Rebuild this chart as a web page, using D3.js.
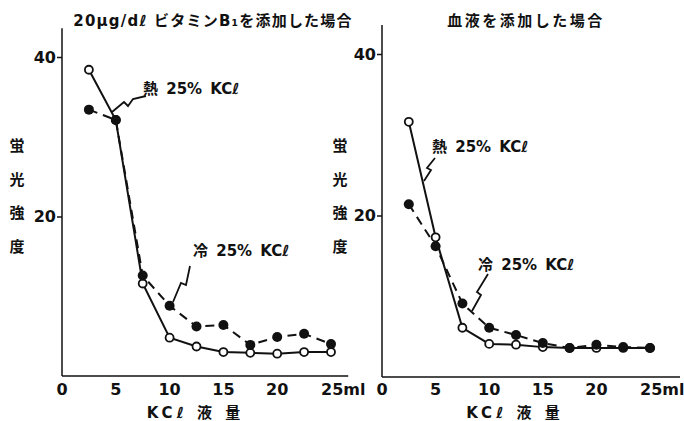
<!DOCTYPE html>
<html lang="ja">
<head>
<meta charset="utf-8">
<title>KCl 液量と蛍光強度</title>
<script src="https://d3js.org/d3.v7.min.js"></script>
<style>
  body { margin: 0; background: #fff; }
  text { font-family: "DejaVu Sans", "Noto Sans CJK JP", sans-serif; font-weight: bold; fill: #111; }
  .line { fill: none; stroke: #111; stroke-width: 2px; }
  .dash { stroke-dasharray: 9,6; }
</style>
</head>
<body>
<div id="chart"></div>
<script>
// KCl volume (ml)
var kcl = [2.5, 5, 7.5, 10, 12.5, 15, 17.5, 20, 22.5, 25];

// left panel: 20 µg/dl vitamin B1 added
var vitHot  = [38.4, 32.1, 11.6, 4.8, 3.7, 3.0, 2.9, 2.8, 3.0, 3.0];
var vitCold = [33.4, 32.1, 12.6, 8.8, 6.2, 6.4, 3.9, 4.9, 5.3, 4.0];

// right panel: blood added
var bloodHot  = [31.6, 17.3, 6.1, 4.1, 4.0, 3.7, 3.6, 3.6, 3.6, 3.6];
var bloodCold = [21.4, 16.2, 9.1, 6.1, 5.2, 4.2, 3.6, 4.0, 3.7, 3.6];

var xTicks = [0, 5, 10, 15, 20, 25];
var yTicks = [20, 40];
var yLabel = ["蛍", "光", "強", "度"];

var width = 684, height = 421;

var svg = d3.select("#chart").append("svg")
  .attr("width", width)
  .attr("height", height);

var panels = [
  { title: "20μg/dℓ ビタミンB\u2081を添加した場合", titleX: 213, titleSpacing: 1.2,
    hot: vitHot, cold: vitCold,
    x: d3.scaleLinear().domain([0, 25]).range([62, 331]),
    y: d3.scaleLinear().domain([0, 40]).range([376, 57]),
    xEnd: 26.6, labelX: 17,
    hotLabel: [143, 94], hotLead: [[112, 112], [124, 102], [128, 106], [133, 99], [146, 96]],
    coldLabel: [193, 256], coldLead: [[173, 302], [181, 283], [186, 285], [190, 266]] },
  { title: "血液を添加した場合", titleX: 526, titleSpacing: 2.5,
    hot: bloodHot, cold: bloodCold,
    x: d3.scaleLinear().domain([0, 25]).range([382, 650]),
    y: d3.scaleLinear().domain([0, 40]).range([377, 54]),
    xEnd: 27.8, labelX: 340,
    hotLabel: [432, 152], hotLead: [[424, 181], [431, 170], [427, 168], [435, 158]],
    coldLabel: [478, 270], coldLead: [[472, 311], [481, 295], [477, 292], [488, 274]] }
];

panels.forEach(function (p) {
  var g = svg.append("g");
  var x = p.x, y = p.y;

  // title
  g.append("text")
    .attr("x", p.titleX).attr("y", 26)
    .attr("text-anchor", "middle")
    .style("font-size", "15px")
    .style("letter-spacing", p.titleSpacing + "px")
    .text(p.title);

  // axis lines
  g.append("line")
    .attr("x1", x(0)).attr("x2", x(0))
    .attr("y1", y(43.6)).attr("y2", y(0))
    .attr("stroke", "#111").attr("stroke-width", 1.5);
  g.append("line")
    .attr("x1", x(0)).attr("x2", x(p.xEnd))
    .attr("y1", y(0)).attr("y2", y(0))
    .attr("stroke", "#111").attr("stroke-width", 1.5);

  // y axis ticks
  var yAxis = d3.axisLeft(y).tickValues(yTicks).tickSize(5).tickPadding(1);
  var ya = g.append("g")
    .attr("transform", "translate(" + x(0) + ",0)")
    .call(yAxis);
  ya.select(".domain").remove();
  ya.selectAll("line").attr("stroke", "#111").attr("stroke-width", 1.5);
  ya.selectAll("text").style("font-size", "16px").attr("font-family", null);

  // x tick labels
  g.selectAll(".xt").data(xTicks).enter().append("text")
    .attr("class", "xt")
    .attr("x", function (d) { return x(d); })
    .attr("y", 395)
    .attr("text-anchor", "middle")
    .style("font-size", "16px")
    .text(function (d) { return d; })
    .filter(function (d) { return d === 25; })
    .append("tspan").text("ml");

  // "25ml": keep "25" centred on its position
  g.selectAll(".xt").filter(function (d) { return d === 25; })
    .attr("text-anchor", "start")
    .attr("x", x(25) - 10);

  // x axis title
  g.append("text")
    .attr("x", x(12.4)).attr("y", 418)
    .attr("text-anchor", "middle")
    .style("font-size", "15px")
    .style("letter-spacing", "4px")
    .text("KCℓ 液 量");

  // y axis title (vertical characters)
  g.selectAll(".yl").data(yLabel).enter().append("text")
    .attr("x", p.labelX)
    .attr("y", function (d, i) { return 151 + i * 33.5; })
    .attr("text-anchor", "middle")
    .style("font-size", "15px")
    .text(function (d) { return d; });

  var line = d3.line()
    .x(function (d, i) { return x(kcl[i]); })
    .y(function (d) { return y(d); });

  g.append("path").datum(p.cold).attr("class", "line dash").attr("d", line);
  g.append("path").datum(p.hot).attr("class", "line").attr("d", line);

  g.selectAll(".hotpt").data(p.hot).enter().append("circle")
    .attr("cx", function (d, i) { return x(kcl[i]); })
    .attr("cy", function (d) { return y(d); })
    .attr("r", 4)
    .attr("fill", "#fff").attr("stroke", "#111").attr("stroke-width", 1.8);

  g.selectAll(".coldpt").data(p.cold).enter().append("circle")
    .attr("cx", function (d, i) { return x(kcl[i]); })
    .attr("cy", function (d) { return y(d); })
    .attr("r", 5)
    .attr("fill", "#111");

  // annotations with zigzag leaders
  g.append("text").attr("x", p.hotLabel[0]).attr("y", p.hotLabel[1])
    .style("font-size", "15px").style("word-spacing", "3px").text("熱 25% KCℓ");
  g.append("text").attr("x", p.coldLabel[0]).attr("y", p.coldLabel[1])
    .style("font-size", "15px").style("word-spacing", "3px").text("冷 25% KCℓ");

  [p.hotLead, p.coldLead].forEach(function (pts) {
    g.append("path")
      .attr("d", d3.line()(pts))
      .attr("fill", "none").attr("stroke", "#111").attr("stroke-width", 1.8);
  });
});
</script>
</body>
</html>
